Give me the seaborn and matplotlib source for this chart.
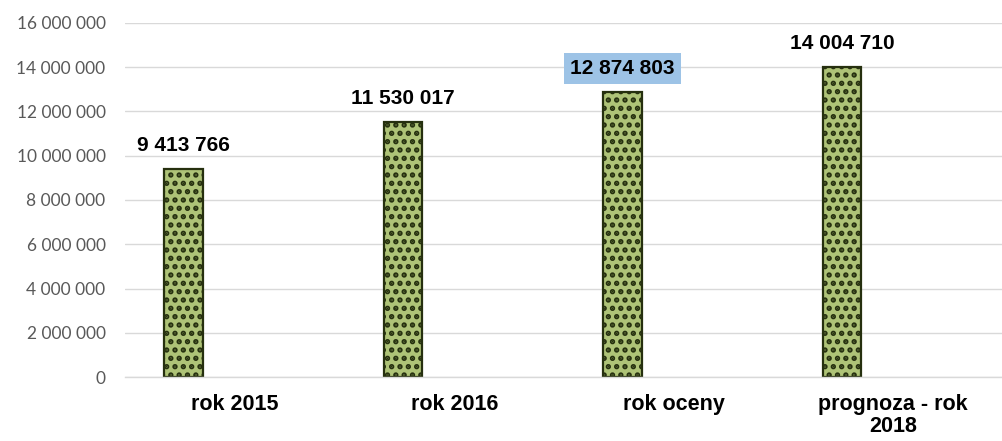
import matplotlib
matplotlib.use("Agg")
import matplotlib.pyplot as plt
import seaborn as sns
import pandas as pd
import numpy as np

# Chart data
categories = ["rok 2015", "rok 2016", "rok oceny", "prognoza - rok\n2018"]
values = [9413766, 11530017, 12874803, 14004710]
value_labels = ["9 413 766", "11 530 017", "12 874 803", "14 004 710"]
y_ticks = [0, 2000000, 4000000, 6000000, 8000000, 10000000, 12000000, 14000000, 16000000]

sns.set_theme(style="white")
plt.rcParams["font.family"] = ["Liberation Sans", "DejaVu Sans"]
plt.rcParams["hatch.color"] = "#1a2408"
plt.rcParams["hatch.linewidth"] = 2.6

# second (empty) series keeps the bars offset to the left as in the source chart
df = pd.DataFrame({
    "kategoria": categories * 2,
    "wartosc": values + [np.nan] * len(values),
    "seria": ["a"] * len(values) + ["b"] * len(values),
})

fig = plt.figure(figsize=(10.03, 4.41), dpi=100)
ax = fig.add_axes([0.1246, 0.145, 0.8754, 0.803])

sns.barplot(data=df, x="kategoria", y="wartosc", hue="seria", order=categories,
            hue_order=["a", "b"], palette=["#b4d06a", "#b4d06a"], width=0.936,
            gap=0.624, dodge=True, legend=False, errorbar=None, ax=ax,
            edgecolor="#26300f", linewidth=1.6, hatch="..")

ax.set_ylim(0, 16000000)
ax.set_yticks(y_ticks)
ax.set_yticklabels([f"{v:,}".replace(",", " ") for v in y_ticks],
                   family=["Lato", "DejaVu Sans"], fontsize=12.5, color="#595959")
ax.tick_params(axis="y", length=0, pad=14)
ax.tick_params(axis="x", length=0, pad=12)
for lbl in ax.get_xticklabels():
    lbl.set_fontweight("bold")
    lbl.set_fontsize(15.5)
    lbl.set_color("black")
    lbl.set_linespacing(1.1)
ax.set_xlabel("")
ax.set_ylabel("")
ax.yaxis.grid(True, color="#d9d9d9", linewidth=1.0)
ax.set_axisbelow(True)
for side in ["top", "right", "left"]:
    ax.spines[side].set_visible(False)
ax.spines["bottom"].set_color("#d9d9d9")
ax.spines["bottom"].set_linewidth(1.0)

bars = [p for p in ax.patches if p.get_height() > 0]
bars = sorted(bars, key=lambda p: p.get_x())
for i, (bar, txt) in enumerate(zip(bars, value_labels)):
    cx = bar.get_x() + bar.get_width() / 2
    box = dict(boxstyle="square,pad=0.3", facecolor="#9dc3e6", edgecolor="none") if i == 2 else None
    ax.annotate(txt, (cx, bar.get_height()), xytext=(0, 17), textcoords="offset points",
                ha="center", va="center", fontsize=15, fontweight="bold",
                color="black", bbox=box)

fig.savefig("out.png", dpi=100)
